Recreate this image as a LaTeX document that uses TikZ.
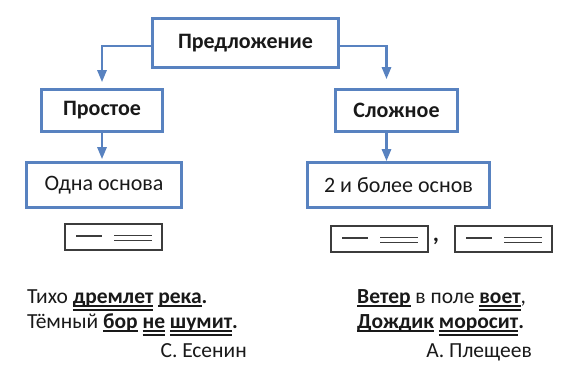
\documentclass[tikz,border=0pt]{standalone}
\usepackage{fontspec}
\setmainfont{Carlito}
\usetikzlibrary{arrows.meta}

\definecolor{sinij}{RGB}{88,130,192}
\definecolor{seryj}{RGB}{60,60,60}
\definecolor{tekst}{RGB}{25,25,25}

% подлежащее и сказуемое
\newcommand\podl[1]{\textbf{\setbox0\hbox{#1}\rlap{\rule[-4pt]{\wd0}{1.8pt}}\box0}}
\newcommand\skaz[1]{\textbf{\setbox0\hbox{#1}\rlap{\rule[-4pt]{\wd0}{1.8pt}}\rlap{\rule[-7.6pt]{\wd0}{1.8pt}}\box0}}

\tikzset{
  blok/.style={draw=sinij, line width=2.6pt, inner sep=0pt, text=tekst,
    font=\fontsize{22}{26}\selectfont},
  zagl/.style={blok, font=\fontsize{22}{26}\selectfont\bfseries},
  strelka/.style={draw=sinij, line width=2.6pt, -{Triangle[width=9pt,length=12pt]}},
  skhema/.style={draw=seryj, line width=1.2pt, minimum width=97pt, minimum height=26pt, inner sep=0pt},
  cherta/.style={draw=seryj, line width=1.5pt},
  stroka/.style={font=\fontsize{21.5}{25}\selectfont, inner sep=0pt, anchor=base west, text=tekst},
}

\begin{document}
\begin{tikzpicture}[x=1pt,y=-1pt,>=Stealth]
\useasboundingbox (0,0) rectangle (575,370);
% ---------- блоки ----------
\node[zagl, minimum width=186pt, minimum height=49pt] (pred) at (245.5,43) {Предложение};
\node[zagl, minimum width=121pt, minimum height=42pt] (prost) at (102,110.5) {Простое};
\node[zagl, minimum width=122pt, minimum height=42pt] (slozh) at (396.5,110.5) {Сложное};
\node[blok, minimum width=155pt, minimum height=45pt] (odna) at (104,185) {Одна основа};
\node[blok, minimum width=182pt, minimum height=45pt] (dva) at (398.5,185) {2 и более основ};
% ---------- стрелки ----------
\draw[strelka] ([yshift=-3pt]pred.west) -| ([yshift=6pt]prost.north);
\draw[strelka] ([yshift=-3pt]pred.east) -| ([xshift=-10pt,yshift=9pt]slozh.north);
\draw[strelka, shorten >=2pt] (prost.south) -- (prost.south |- odna.north);
\draw[strelka] ([xshift=-10pt]slozh.south) -- ([xshift=-10pt]slozh.south |- dva.north);
% ---------- схемы ----------
\node[skhema] (s1) at (113.5,237) {};
\node[skhema] (s2) at (379.5,239) {};
\node[skhema] (s3) at (503.5,239) {};
\node[font=\fontsize{24}{28}\selectfont\bfseries, inner sep=0pt, text=tekst] (zap) at (436,241) {,};
\foreach \s in {s1,s2,s3} {
  \draw[cherta] ([shift={(-37.5,-1)}]\s.center) -- ([shift={(-11.5,-1)}]\s.center);
  \draw[cherta, line width=1.8pt] ([shift={(0.5,-1.5)}]\s.center) -- ([shift={(38.5,-1.5)}]\s.center);
  \draw[cherta, line width=1.8pt] ([shift={(0.5,3.5)}]\s.center) -- ([shift={(38.5,3.5)}]\s.center);
}
% ---------- примеры ----------
\node[stroka] (l1) at (27,303) {Тихо \skaz{дремлет} \podl{река}\textbf{.}};
\node[stroka] (l2) at (27,328) {Тёмный \podl{бор} \skaz{не} \skaz{шумит}\textbf{.}};
\node[stroka, anchor=base east] (avt1) at (247,357) {С. Есенин};
\node[stroka] (r1) at (357,303) {\podl{Ветер} в поле \skaz{воет},};
\node[stroka] (r2) at (357,328) {\podl{Дождик} \skaz{моросит}\textbf{.}};
\node[stroka, anchor=base east] (avt2) at (532,357) {А. Плещеев};
\end{tikzpicture}
\end{document}
